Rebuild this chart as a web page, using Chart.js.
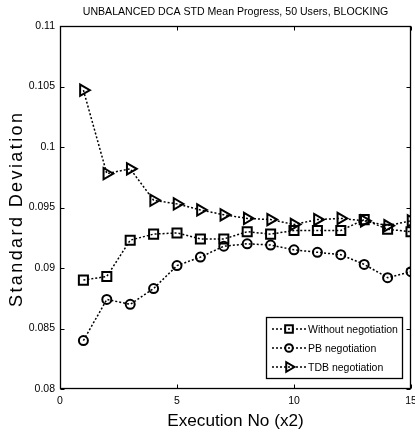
<!DOCTYPE html>
<html>
<head>
<meta charset="utf-8">
<script src="https://cdn.jsdelivr.net/npm/chart.js"></script>
<style>
    html, body { margin: 0; padding: 0; background: #fff; }
    #wrap { width: 415px; height: 436px; }
</style>
</head>
<body>
<div id="wrap"><canvas id="stdChart" width="415" height="436"></canvas></div>
<script>
const execNo = [1, 2, 3, 4, 5, 6, 7, 8, 9, 10, 11, 12, 13, 14, 15];
const withoutNeg = [0.0890, 0.0893, 0.0923, 0.0928, 0.0929, 0.0924, 0.0924, 0.0930, 0.0928, 0.0931, 0.0931, 0.0931, 0.0940, 0.0932, 0.0930];
const pbNeg = [0.0840, 0.0874, 0.0870, 0.0883, 0.0902, 0.0909, 0.0918, 0.0920, 0.0919, 0.0915, 0.0913, 0.0911, 0.0903, 0.0892, 0.0897];
const tdbNeg = [0.1047, 0.0978, 0.0982, 0.0956, 0.0953, 0.0948, 0.0944, 0.0941, 0.0940, 0.0936, 0.0940, 0.0941, 0.0939, 0.0935, 0.0939];
const seriesNames = ['Without negotiation', 'PB negotiation', 'TDB negotiation'];
const xTicks = [0, 5, 10, 15];
const yTicks = [0.08, 0.085, 0.09, 0.095, 0.1, 0.105, 0.11];

const FONT = "'Liberation Sans', Arial, sans-serif";

function toPoints(values) {
    return values.map((v, i) => ({ x: execNo[i], y: v }));
}

function lineStyle(label, values, pointStyle, radius, rotation) {
    return {
        label: label,
        data: toPoints(values),
        borderColor: '#000',
        borderWidth: 1.5,
        borderDash: [2, 2],
        fill: false,
        tension: 0,
        pointStyle: pointStyle,
        pointRadius: radius,
        pointRotation: rotation,
        pointBorderWidth: 2,
        pointBorderColor: '#000',
        pointBackgroundColor: 'rgba(0,0,0,0)'
    };
}

// box round the plot with inward ticks on all four sides
const framePlugin = {
    id: 'frame',
    afterDraw(chart) {
        const { ctx, chartArea: a } = chart;
        const x = chart.scales.x, y = chart.scales.y;
        const L = Math.round(a.left) + 0.5, R = Math.round(a.right) - 0.5;
        const T = Math.round(a.top) + 0.5, B = Math.round(a.bottom) - 0.5;
        ctx.save();
        ctx.strokeStyle = '#000';
        ctx.lineWidth = 1;
        ctx.beginPath();
        xTicks.forEach(v => {
            const px = Math.round(x.getPixelForValue(v)) + 0.5;
            ctx.moveTo(px, B); ctx.lineTo(px, B - 4);
            ctx.moveTo(px, T); ctx.lineTo(px, T + 4);
        });
        yTicks.forEach(v => {
            const py = Math.round(y.getPixelForValue(v)) + 0.5;
            ctx.moveTo(L, py); ctx.lineTo(L + 4, py);
            ctx.moveTo(R, py); ctx.lineTo(R - 4, py);
        });
        ctx.stroke();
        ctx.lineWidth = 1.3;
        ctx.strokeRect(L, T, R - L, B - T);
        ctx.restore();
    }
};

// y title with letter spacing, Chart.js axis title can't space letters
const yTitlePlugin = {
    id: 'yTitle',
    afterDraw(chart) {
        const ctx = chart.ctx;
        ctx.save();
        ctx.translate(17, 210);
        ctx.rotate(-Math.PI / 2);
        ctx.font = '18px ' + FONT;
        ctx.letterSpacing = '2.4px';
        ctx.fillStyle = '#000';
        ctx.textAlign = 'center';
        ctx.textBaseline = 'middle';
        ctx.fillText('Standard Deviation', 1.2, 0);
        ctx.restore();
    }
};

// MATLAB style legend inside the lower right corner
const legendPlugin = {
    id: 'boxLegend',
    afterDraw(chart) {
        const { ctx, chartArea: a } = chart;
        const left = a.right - 145, top = a.bottom - 72;
        const w = 136, h = 61;
        ctx.save();
        ctx.fillStyle = '#fff';
        ctx.fillRect(left, top, w, h);
        ctx.strokeStyle = '#000';
        ctx.lineWidth = 1.3;
        ctx.strokeRect(left + 0.5, top + 0.5, w, h);
        chart.data.datasets.forEach((ds, i) => {
            const cy = top + 12 + i * 19;
            ctx.save();
            ctx.strokeStyle = '#000';
            ctx.lineWidth = 1.5;
            ctx.setLineDash([2, 2]);
            ctx.beginPath();
            ctx.moveTo(left + 6, cy);
            ctx.lineTo(left + 40, cy);
            ctx.stroke();
            ctx.setLineDash([]);
            ctx.fillStyle = 'rgba(0,0,0,0)';
            ctx.lineWidth = 2;
            Chart.helpers.drawPoint(ctx, {
                pointStyle: ds.pointStyle,
                rotation: ds.pointRotation,
                radius: ds.pointRadius * 0.85,
                borderWidth: 2
            }, left + 23, cy);
            ctx.restore();
            ctx.fillStyle = '#000';
            ctx.font = '10.5px ' + FONT;
            ctx.textBaseline = 'middle';
            ctx.fillText(ds.label, left + 42, cy + 1);
        });
        ctx.restore();
    }
};

const ctx = document.getElementById('stdChart').getContext('2d');

new Chart(ctx, {
    type: 'line',
    data: {
        datasets: [
            lineStyle(seriesNames[0], withoutNeg, 'rect', 6.4, 0),
            lineStyle(seriesNames[1], pbNeg, 'circle', 4.5, 0),
            lineStyle(seriesNames[2], tdbNeg, 'triangle', 6.5, 90)
        ]
    },
    options: {
        responsive: false,
        animation: false,
        devicePixelRatio: 1,
        layout: {
            autoPadding: false,
            padding: { left: 0, right: 4, top: 0, bottom: 0 }
        },
        plugins: {
            legend: { display: false },
            tooltip: { enabled: false },
            title: {
                display: true,
                text: 'UNBALANCED DCA STD Mean Progress, 50 Users, BLOCKING',
                fullSize: false,
                color: '#000',
                font: { family: FONT, size: 10.6, weight: 'normal' },
                padding: { top: 6, bottom: 7.3 }
            }
        },
        scales: {
            x: {
                type: 'linear',
                min: 0,
                max: 15,
                afterFit(scale) {
                    scale.height = 47;
                    scale.paddingLeft = 0;
                    scale.paddingRight = 0;
                },
                afterBuildTicks(scale) {
                    scale.ticks = xTicks.map(v => ({ value: v }));
                },
                grid: { display: false, drawTicks: false },
                border: { display: false },
                ticks: {
                    color: '#000',
                    padding: 6,
                    maxRotation: 0,
                    font: { family: FONT, size: 10.5 }
                },
                title: {
                    display: true,
                    text: 'Execution No (x2)',
                    color: '#000',
                    font: { family: FONT, size: 17.2 },
                    padding: { top: 0, bottom: 4 }
                }
            },
            y: {
                min: 0.08,
                max: 0.11,
                afterFit(scale) {
                    scale.width = 60;
                    scale.paddingTop = 0;
                    scale.paddingBottom = 0;
                },
                afterBuildTicks(scale) {
                    scale.ticks = yTicks.map(v => ({ value: v }));
                },
                grid: { display: false, drawTicks: false },
                border: { display: false },
                ticks: {
                    color: '#000',
                    padding: 5,
                    font: { family: FONT, size: 10.5 },
                    callback: v => String(Number(v.toFixed(3)))
                }
            }
        }
    },
    plugins: [framePlugin, yTitlePlugin, legendPlugin]
});
</script>
</body>
</html>
